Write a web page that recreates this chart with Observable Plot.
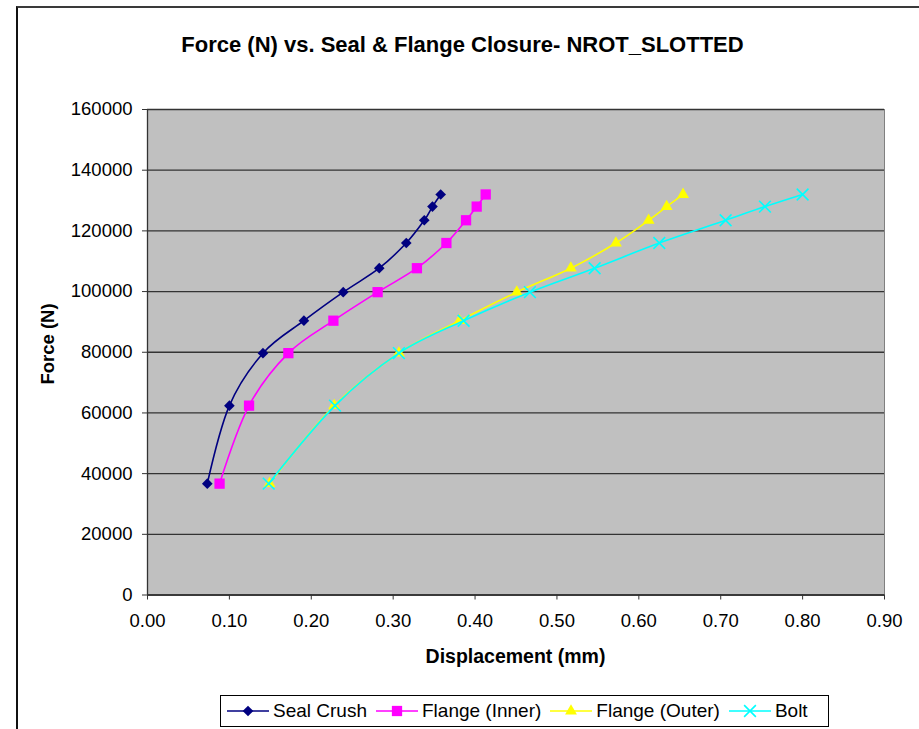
<!DOCTYPE html>
<html>
<head>
<meta charset="utf-8">
<script src="https://cdn.jsdelivr.net/npm/d3@7"></script>
<script src="https://cdn.jsdelivr.net/npm/@observablehq/plot@0.6"></script>
<style>
  html, body { margin: 0; padding: 0; background: #fff; overflow: hidden; }
  #chart { position: relative; width: 919px; height: 729px; overflow: hidden; font-family: "Liberation Sans", Arial, sans-serif; color: #000; }
  #border { position: absolute; left: 16px; top: 6px; width: 1000px; height: 1000px; border-top: 2px solid #3a3a3a; border-left: 2px solid #111; }
  #plot { position: absolute; left: 0; top: 0; }
  .title { position: absolute; left: 0; width: 919px; top: 32px; text-align: center; font-weight: bold; font-size: 22px; padding-left: 6px; box-sizing: border-box; }
  .xlabel { position: absolute; left: 147px; width: 737px; top: 645px; text-align: center; font-weight: bold; font-size: 19.5px; }
  .ylabel { position: absolute; left: 48px; top: 344px; transform: translate(-50%, -50%) rotate(-90deg); font-weight: bold; font-size: 18.5px; white-space: nowrap; }
  #legend { position: absolute; left: 220px; top: 695px; width: 609px; height: 32px; box-sizing: border-box; border: 1px solid #000; display: flex; align-items: center; font-size: 19px; padding-left: 6px; background: #fff; }
  #legend .item { display: flex; align-items: center; margin-right: 9px; white-space: nowrap; }
  #legend svg { margin-right: 4px; }
</style>
</head>
<body>
<div id="chart">
  <div id="border"></div>
  <div id="plot"></div>
  <div class="title">Force (N) vs. Seal &amp; Flange Closure- NROT_SLOTTED</div>
  <div class="xlabel">Displacement (mm)</div>
  <div class="ylabel">Force (N)</div>
  <div id="legend"></div>
</div>
<script>
// ---- data ----
const forceN = [36700, 62400, 79700, 90400, 99800, 107700, 116000, 123500, 128000, 132000];
const sealCrush   = [0.073, 0.100, 0.141, 0.191, 0.239, 0.283, 0.316, 0.338, 0.348, 0.358];
const flangeInner = [0.088, 0.124, 0.172, 0.227, 0.281, 0.329, 0.365, 0.389, 0.402, 0.413];
const flangeOuter = [0.149, 0.228, 0.307, 0.381, 0.451, 0.517, 0.572, 0.612, 0.634, 0.654];
const bolt        = [0.148, 0.229, 0.307, 0.386, 0.467, 0.546, 0.625, 0.706, 0.754, 0.800];
const seriesNames = ["Seal Crush", "Flange (Inner)", "Flange (Outer)", "Bolt"];
const xTicks = [0, 0.1, 0.2, 0.3, 0.4, 0.5, 0.6, 0.7, 0.8, 0.9];
const yTicks = [0, 20000, 40000, 60000, 80000, 100000, 120000, 140000, 160000];

// ---- styles ----
const styles = [
  {color: "#000080", symbol: "diamond2", r: 4.8, filled: true},
  {color: "#FF00FF", symbol: "square", r: 5.8, filled: true},
  {color: "#FFFF00", symbol: "triangle", r: 4.4, filled: true},
  {color: "#00FFFF", symbol: "times", r: 5.4, filled: false}
];
const seriesX = [sealCrush, flangeInner, flangeOuter, bolt];

const marks = [
  Plot.frame({fill: "#C0C0C0", stroke: "#808080"}),
  Plot.gridY(yTicks, {stroke: "#333", strokeOpacity: 1, strokeWidth: 1.3}),
  Plot.ruleX([0], {stroke: "#333", strokeWidth: 1.3}),
  Plot.ruleY([0], {stroke: "#333", strokeWidth: 1.3}),
  Plot.axisX(xTicks, {tickFormat: d3.format(".2f"), tickSize: 5, tickPadding: 14, label: null, stroke: "#333"}),
  Plot.axisY(yTicks, {tickFormat: d => String(d), tickSize: 5, tickPadding: 10, label: null, stroke: "#333"})
];

seriesX.forEach((xs, i) => {
  const rows = xs.map((x, j) => ({x, y: forceN[j]}));
  const s = styles[i];
  marks.push(Plot.line(rows, {x: "x", y: "y", stroke: s.color, strokeWidth: 1.6, curve: "cardinal"}));
  if (s.filled) {
    marks.push(Plot.dot(rows, {x: "x", y: "y", symbol: s.symbol, r: s.r, fill: s.color, stroke: "none"}));
  } else {
    marks.push(Plot.dot(rows, {x: "x", y: "y", symbol: s.symbol, r: s.r, fill: "none", stroke: s.color, strokeWidth: 1.6}));
  }
});

const chart = Plot.plot({
  width: 919,
  height: 729,
  marginLeft: 147,
  marginRight: 35,
  marginTop: 109,
  marginBottom: 134.5,
  style: {fontFamily: "'Liberation Sans', Arial, sans-serif", fontSize: "18.5px", color: "#000", background: "transparent", overflow: "visible"},
  x: {domain: [0, 0.9]},
  y: {domain: [0, 160000]},
  marks
});
document.getElementById("plot").appendChild(chart);

// ---- legend ----
const legend = document.getElementById("legend");
const symTypes = {diamond2: d3.symbolDiamond2, square: d3.symbolSquare, triangle: d3.symbolTriangle, times: d3.symbolTimes};
seriesNames.forEach((name, i) => {
  const s = styles[i];
  const item = document.createElement("div");
  item.className = "item";
  const path = d3.symbol(symTypes[s.symbol], Math.PI * s.r * s.r)();
  item.innerHTML = `<svg width="42" height="20"><line x1="0" x2="42" y1="10" y2="10" stroke="${s.color}" stroke-width="1.6"/>` +
    `<path transform="translate(21,10)" d="${path}" fill="${s.filled ? s.color : "none"}" stroke="${s.filled ? "none" : s.color}" stroke-width="1.6"/></svg>` +
    `<span>${name}</span>`;
  legend.appendChild(item);
});
</script>
</body>
</html>
